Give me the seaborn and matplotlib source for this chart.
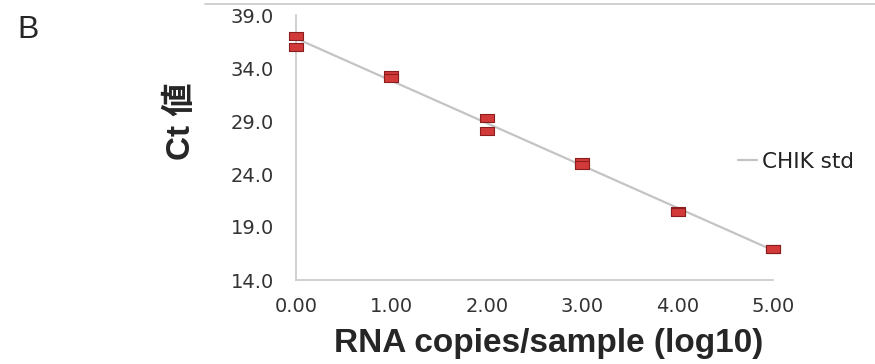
import matplotlib
matplotlib.use('Agg')
import matplotlib.pyplot as plt
import seaborn as sns
import pandas as pd
from matplotlib.lines import Line2D

# ---- data ----
log_copies = [0, 0, 1, 1, 2, 2, 3, 3, 4, 4, 5, 5]
ct_values = [37.05, 36.0, 33.35, 33.05, 29.31, 28.09, 25.15, 24.85, 20.5, 20.4, 16.95, 16.9]
x_ticks = [0, 1, 2, 3, 4, 5]
x_tick_labels = ['0.00', '1.00', '2.00', '3.00', '4.00', '5.00']
y_ticks = [14, 19, 24, 29, 34, 39]
y_tick_labels = ['14.0', '19.0', '24.0', '29.0', '34.0', '39.0']
series_label = 'CHIK std'
x_label = 'RNA copies/sample (log10)'
y_label = 'Ct 値'
panel_label = 'B'

sns.set_style('white')
plt.rcParams['font.family'] = ['DejaVu Sans', 'Noto Sans CJK JP']

W, H = 875, 364
fig = plt.figure(figsize=(W / 100, H / 100), dpi=100)
ax = fig.add_axes([296 / W, 1 - 280 / H, 477 / W, 265 / H])

df = pd.DataFrame({'x': log_copies, 'y': ct_values})

sns.regplot(data=df, x='x', y='y', ax=ax, scatter=False, ci=None, truncate=True,
            color='#c4c4c4', line_kws={'lw': 1.6, 'label': series_label, 'zorder': 2})

rect = [(-1, -0.68), (1, -0.68), (1, 0.68), (-1, 0.68), (-1, -0.68)]
sns.scatterplot(data=df, x='x', y='y', ax=ax, marker=rect, s=90,
                color='#d23a3a', edgecolor='#8a1e1e', linewidth=0.8,
                zorder=3, clip_on=False, legend=False)

ax.set_xlim(0, 5)
ax.set_ylim(14, 39)
ax.set_xticks(x_ticks)
ax.set_xticklabels(x_tick_labels)
ax.set_yticks(y_ticks)
ax.set_yticklabels(y_tick_labels)

for s in ['top', 'right']:
    ax.spines[s].set_visible(False)
for s in ['left', 'bottom']:
    ax.spines[s].set_color('#c8c8c8')
    ax.spines[s].set_linewidth(1.2)

ax.tick_params(axis='y', direction='out', length=6, width=1, color='#c8c8c8',
               pad=10, labelsize=14, labelcolor='#333333')
ax.tick_params(axis='x', direction='in', length=6, width=1, color='#c8c8c8',
               pad=12, labelsize=14, labelcolor='#333333')

ax.set_ylabel(y_label, fontsize=24, fontweight='bold',
              family=['Liberation Sans', 'Noto Sans CJK JP'])
ax.yaxis.set_label_coords(-0.2075, 0.6)
ax.set_xlabel(x_label, fontsize=24, fontweight='bold', family=['Liberation Sans'])
ax.xaxis.set_label_coords(0.53, -0.18)

line = ax.get_lines()[0]
ax.legend(handles=[line], labels=[series_label], loc='center left',
          bbox_to_anchor=(738 / W, 1 - 161.7 / H), bbox_transform=fig.transFigure,
          frameon=False, borderpad=0, borderaxespad=0, handlelength=0.9,
          handletextpad=0.2, fontsize=15.5, labelcolor='#222222')

fig.text(17 / W, 1 - 38 / H, panel_label, fontsize=23, family=['Liberation Sans'],
         va='baseline', ha='left')
fig.add_artist(Line2D([205 / W, 1.0], [1 - 4 / H, 1 - 4 / H], transform=fig.transFigure,
                      color='#c8c8c8', lw=1.2))

fig.savefig('out.png', dpi=100)
